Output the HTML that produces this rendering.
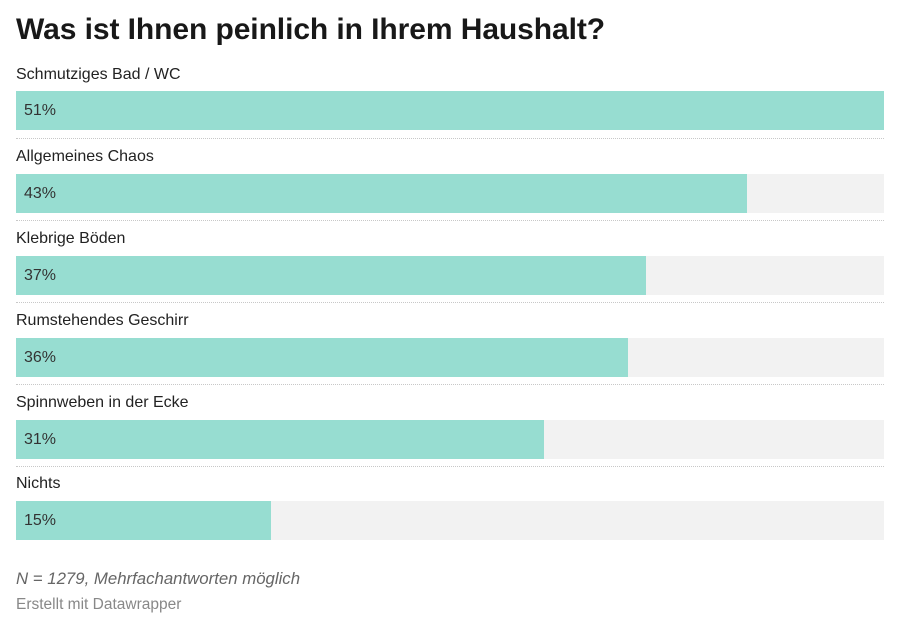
<!DOCTYPE html>
<html><head><meta charset="utf-8"><style>
body{margin:0;width:900px;height:631px;background:#fff;font-family:"Liberation Sans",sans-serif;color:#181818;position:relative;overflow:hidden}
.t{position:absolute;left:16px;top:13px;font-size:30px;font-weight:bold;letter-spacing:-0.08px}
.l{position:absolute;left:16px;font-size:16px;color:#222}
.bg{position:absolute;left:16px;width:868px;height:39px;background:#f2f2f2}
.b{position:absolute;left:0;top:0;height:39px;background:#97ddd1}
.v{position:absolute;left:8px;top:11px;font-size:16px;color:#333}
.s{position:absolute;left:16px;width:868px;border-top:1px dotted #c8c8c8}
.n{position:absolute;left:16px;top:569px;font-size:16.8px;font-style:italic;color:#666}
.c{position:absolute;left:16px;top:596px;font-size:15.5px;color:#888}
</style></head><body>
<div class="t">Was ist Ihnen peinlich in Ihrem Haushalt?</div>

<div class="l" style="top:66px">Schmutziges Bad / WC</div>
<div class="bg" style="top:91px"><div class="b" style="width:868px"></div><div class="v">51%</div></div>
<div class="s" style="top:138px"></div>

<div class="l" style="top:148px">Allgemeines Chaos</div>
<div class="bg" style="top:174px"><div class="b" style="width:731px"></div><div class="v">43%</div></div>
<div class="s" style="top:220px"></div>

<div class="l" style="top:230px">Klebrige Böden</div>
<div class="bg" style="top:256px"><div class="b" style="width:630px"></div><div class="v">37%</div></div>
<div class="s" style="top:302px"></div>

<div class="l" style="top:312px">Rumstehendes Geschirr</div>
<div class="bg" style="top:338px"><div class="b" style="width:612px"></div><div class="v">36%</div></div>
<div class="s" style="top:384px"></div>

<div class="l" style="top:394px">Spinnweben in der Ecke</div>
<div class="bg" style="top:420px"><div class="b" style="width:528px"></div><div class="v">31%</div></div>
<div class="s" style="top:466px"></div>

<div class="l" style="top:475px">Nichts</div>
<div class="bg" style="top:501px"><div class="b" style="width:255px"></div><div class="v">15%</div></div>

<div class="n">N = 1279, Mehrfachantworten möglich</div>
<div class="c">Erstellt mit Datawrapper</div>
</body></html>
